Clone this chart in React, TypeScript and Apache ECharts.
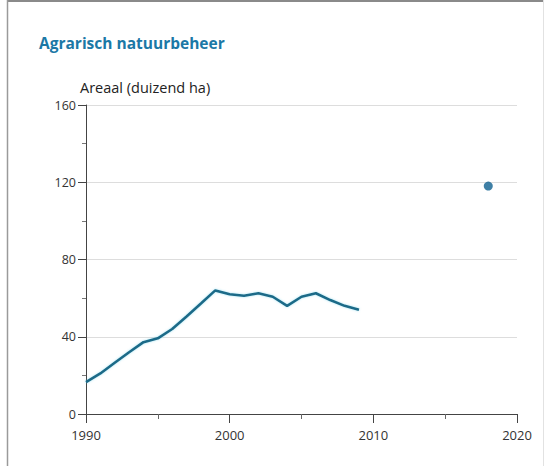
import React, { useEffect, useRef } from "react";
import * as echarts from "echarts";

const title = "Agrarisch natuurbeheer";
const yAxisName = "Areaal (duizend ha)";
const years = [1990, 1991, 1992, 1993, 1994, 1995, 1996, 1997, 1998, 1999, 2000, 2001, 2002, 2003, 2004, 2005, 2006, 2007, 2008, 2009];
const values = [16.5, 21, 26.5, 32, 37.2, 39.2, 44, 50.5, 57.2, 64, 62, 61.2, 62.5, 60.7, 56, 60.7, 62.5, 59, 56, 54];
const targetYear = [2018];
const targetValue = [118];

export default function App() {
  const ref = useRef<HTMLDivElement>(null);
  useEffect(() => {
    const chart = echarts.init(ref.current!, null, { renderer: "svg" });
    const font = "'Open Sans', 'Noto Sans', sans-serif";
    chart.setOption({
      animation: false,
      backgroundColor: "#ffffff",
      title: {
        text: title,
        left: 34,
        top: 30,
        textStyle: { fontFamily: font, fontSize: 15.5, fontWeight: "bold", color: "#1b78a6" },
      },
      graphic: [
        { type: "line", shape: { x1: 7, y1: 1, x2: 543, y2: 1 }, style: { stroke: "#8a8a8a", lineWidth: 2 } },
        { type: "line", shape: { x1: 7.5, y1: 0, x2: 7.5, y2: 466 }, style: { stroke: "#9a9a9a", lineWidth: 1.5 } },
        { type: "line", shape: { x1: 543.5, y1: 0, x2: 543.5, y2: 466 }, style: { stroke: "#e2e2e2", lineWidth: 1 } },
      ],
      grid: { left: 86, right: 32, top: 105, bottom: 52 },
      xAxis: {
        type: "value",
        min: 1990,
        max: 2020,
        interval: 10,
        axisLine: { show: true, lineStyle: { color: "#444", width: 1 } },
        axisTick: { show: true, length: 9, inside: false, lineStyle: { color: "#444" } },
        minorTick: { show: true, splitNumber: 2, length: 5, lineStyle: { color: "#666" } },
        splitLine: { show: false },
        axisLabel: { margin: 14, fontFamily: font, fontSize: 13, color: "#333", formatter: (v: number) => String(v) },
      },
      yAxis: {
        type: "value",
        min: 0,
        max: 160,
        interval: 40,
        name: yAxisName,
        nameLocation: "end",
        nameGap: 10,
        nameTextStyle: { align: "left", fontFamily: font, fontSize: 14.5, color: "#222", padding: [0, 0, 0, -6] },
        axisLine: { show: true, onZero: false, lineStyle: { color: "#444", width: 1 } },
        axisTick: { show: true, length: 8, lineStyle: { color: "#444" } },
        minorTick: { show: true, splitNumber: 2, length: 4, lineStyle: { color: "#777" } },
        splitLine: { show: true, lineStyle: { color: "#dddddd", width: 1 } },
        axisLabel: { margin: 10, fontFamily: font, fontSize: 12.5, color: "#333" },
      },
      series: [
        {
          type: "line",
          data: years.map((y, i) => [y, values[i]]),
          showSymbol: false,
          symbol: "none",
          lineStyle: { color: "#1d6a88", width: 2.6, shadowColor: "rgba(80,200,230,0.5)", shadowBlur: 2 },
        },
        {
          type: "scatter",
          data: targetYear.map((y, i) => [y, targetValue[i]]),
          symbol: "circle",
          symbolSize: 9,
          itemStyle: { color: "#0e5f8e" },
        },
      ],
    });
    return () => chart.dispose();
  }, []);
  return <div ref={ref} style={{ width: 549, height: 466, position: "absolute", left: 0, top: 0 }} />;
}
